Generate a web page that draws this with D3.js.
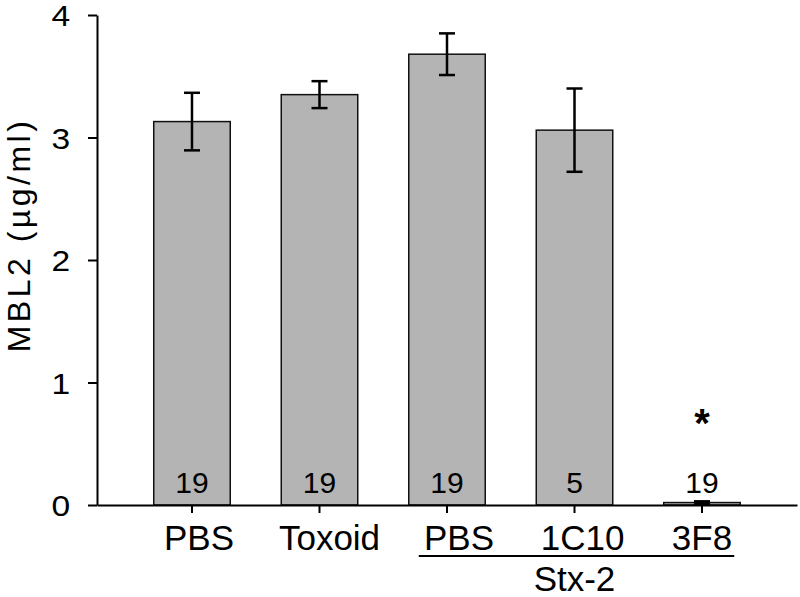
<!DOCTYPE html>
<html>
<head>
<meta charset="utf-8">
<script src="https://cdn.jsdelivr.net/npm/d3@7"></script>
<style>
  body { margin: 0; background: #fff; }
  svg text { font-family: "Liberation Sans", Arial, sans-serif; fill: #000; }
</style>
</head>
<body>
<svg id="chart" width="800" height="597"></svg>
<script>
var groups = ["PBS", "Toxoid", "PBS", "1C10", "3F8"];
var means = [3.13, 3.35, 3.68, 3.06, 0.02];
var errs = [0.235, 0.11, 0.17, 0.34, 0.01];
var counts = [19, 19, 19, 5, 19];
var yTicks = [0, 1, 2, 3, 4];
var stars = ["", "", "", "", "*"];

// the original labels sit a little right of their ticks
var labelNudge = [7, 10, 12, 8, 0];

var svg = d3.select("#chart");

var x = d3.scaleBand()
  .domain(d3.range(groups.length))
  .range([97, 797])
  .paddingInner(0.4)
  .paddingOuter(0.445);

var y = d3.scaleLinear().domain([0, 4]).range([505, 15]);

// bars
svg.selectAll("rect.bar")
  .data(means)
  .join("rect")
  .attr("class", "bar")
  .attr("x", (d, i) => x(i))
  .attr("y", d => y(d))
  .attr("width", x.bandwidth())
  .attr("height", d => y(0) - y(d))
  .attr("fill", "#b4b4b4")
  .attr("stroke", "#111")
  .attr("stroke-width", 1.5);

// error bars
var eb = svg.selectAll("g.err")
  .data(means)
  .join("g")
  .attr("class", "err")
  .attr("stroke", "#000")
  .attr("stroke-width", 2.5);
eb.append("line")
  .attr("x1", (d, i) => x(i) + x.bandwidth() / 2)
  .attr("x2", (d, i) => x(i) + x.bandwidth() / 2)
  .attr("y1", (d, i) => y(d + errs[i]))
  .attr("y2", (d, i) => y(d - errs[i]));
eb.selectAll("line.cap")
  .data((d, i) => [[i, d + errs[i]], [i, d - errs[i]]])
  .join("line")
  .attr("class", "cap")
  .attr("x1", d => x(d[0]) + x.bandwidth() / 2 - 8)
  .attr("x2", d => x(d[0]) + x.bandwidth() / 2 + 8)
  .attr("y1", d => y(d[1]))
  .attr("y2", d => y(d[1]));

// n labels
svg.selectAll("text.n")
  .data(counts)
  .join("text")
  .attr("class", "n")
  .attr("x", (d, i) => x(i) + x.bandwidth() / 2)
  .attr("y", 493)
  .attr("text-anchor", "middle")
  .style("font-size", "30px")
  .text(d => d);

// significance
svg.selectAll("text.star")
  .data(stars)
  .join("text")
  .attr("class", "star")
  .attr("x", (d, i) => x(i) + x.bandwidth() / 2)
  .attr("y", 437)
  .attr("text-anchor", "middle")
  .style("font-size", "40px")
  .style("font-weight", "bold")
  .text(d => d);

// y axis
var yAxis = svg.append("g")
  .attr("transform", "translate(97,0)")
  .call(d3.axisLeft(y).tickValues(yTicks).tickFormat(d3.format("d")).tickSize(9).tickSizeOuter(0).tickPadding(15));
yAxis.select(".domain").attr("stroke", "#000").attr("stroke-width", 2);
yAxis.selectAll(".tick line").attr("stroke", "#000").attr("stroke-width", 2);
yAxis.selectAll(".tick text").style("font-size", "30px").attr("dy", "0.36em")
  .attr("transform", "scale(1.12,1)");

// x axis
var xAxis = svg.append("g")
  .attr("transform", "translate(0,505)")
  .call(d3.axisBottom(x).tickFormat(i => groups[i]).tickSize(8).tickSizeOuter(0));
xAxis.select(".domain").attr("stroke", "#000").attr("stroke-width", 2);
xAxis.selectAll(".tick line").attr("stroke", "#000").attr("stroke-width", 2);
xAxis.selectAll(".tick text").style("font-size", "35px").attr("y", 45).attr("dy", 0)
  .attr("x", i => labelNudge[i]);

// group bracket
svg.append("line")
  .attr("x1", x(2) + 10).attr("x2", x(4) + x.bandwidth() - 6)
  .attr("y1", 556).attr("y2", 556)
  .attr("stroke", "#000").attr("stroke-width", 2);
svg.append("text")
  .attr("x", x(3) + x.bandwidth() / 2)
  .attr("y", 591)
  .attr("text-anchor", "middle")
  .style("font-size", "35px")
  .text("Stx-2");

// y title
svg.append("text")
  .attr("transform", "translate(30,235) rotate(-90)")
  .attr("text-anchor", "middle")
  .style("font-size", "32px")
  .style("letter-spacing", "3.5px")
  .text("MBL2 (µg/ml)");
</script>
</body>
</html>
